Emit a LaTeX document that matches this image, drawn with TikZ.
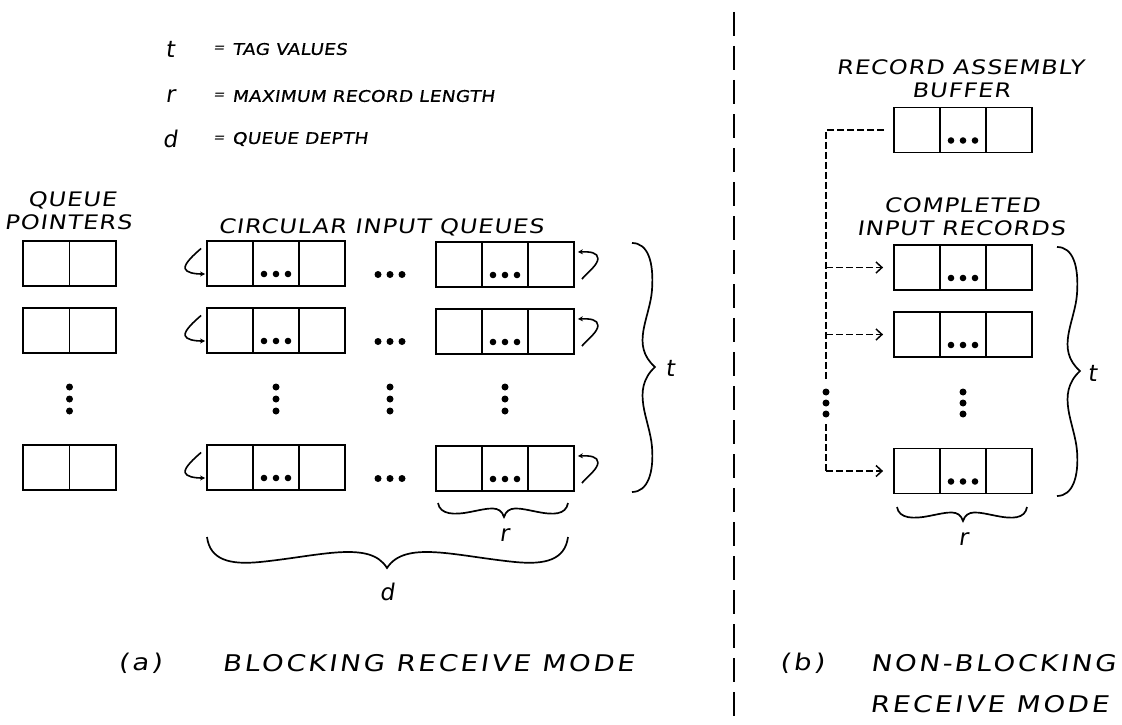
\documentclass[tikz,border=0pt]{standalone}
\usepackage{fontspec}
\usetikzlibrary{arrows.meta}
\newfontfamily\plotvar{DejaVu Sans}[FakeSlant=0.15]
\newfontfamily\plotleg{DejaVu Sans}[FakeSlant=0.15, FakeStretch=1.15, LetterSpace=2, FakeBold=0.5]
\newfontfamily\plotlab{DejaVu Sans}[FakeSlant=0.15, FakeStretch=1.2, LetterSpace=5]
\newfontfamily\plotcap{DejaVu Sans}[FakeSlant=0.15, FakeStretch=1.2, LetterSpace=12]
\begin{document}
\begin{tikzpicture}[x=1pt,y=-1pt]
\tikzset{
  box/.style={draw, line width=1.8pt, inner sep=0pt, minimum height=45pt},
  rectri/.style={box, minimum width=138pt, path picture={
      \draw[line width=1.8pt] ([xshift=-23pt]path picture bounding box.center) ++(0,40pt) -- ++(0,-80pt);
      \draw[line width=1.8pt] ([xshift=23pt]path picture bounding box.center) ++(0,40pt) -- ++(0,-80pt);
      \foreach \dx in {-12,0,12} \fill ([xshift=\dx pt, yshift=-10.5pt]path picture bounding box.center) circle (3.3pt);
  }},
  recduo/.style={box, minimum width=93pt, path picture={
      \draw[line width=1.8pt] (path picture bounding box.center) ++(0,40pt) -- ++(0,-80pt);
  }},
  dotc/.style={circle, fill, inner sep=0pt, minimum size=7pt},
  var/.style={font=\plotvar\fontsize{23}{25}\selectfont, inner sep=0pt},
  eqs/.style={font=\plotvar\fontsize{14}{15}\selectfont, inner sep=0pt},
  leg/.style={font=\plotleg\fontsize{16}{18}\selectfont, inner sep=0pt, anchor=west},
  lab/.style={font=\plotlab\fontsize{20}{22}\selectfont, inner sep=0pt},
  captext/.style={font=\plotcap\fontsize{23}{25}\selectfont, inner sep=0pt},
  brace/.style={line width=1.7pt},
  circ/.style={line width=1.6pt, -{Stealth[length=5pt,width=5pt]}},
  conn/.style={line width=1.5pt, dash pattern=on 7pt off 3pt},
  connarr/.style={conn, -{Straight Barb[length=6pt,width=11pt,line width=1.5pt]}},
  divider/.style={line width=1.8pt, dash pattern=on 24pt off 10pt}
}
\useasboundingbox (0,0) rectangle (1122,725);

% legend
\node[var] (lt) at (170,49) {t};
\node[eqs] (le1) at (219,49) {=};
\node[leg] (ltx) at (232,49) {TAG VALUES};
\node[var] (lr) at (170,96) {r};
\node[eqs] (le2) at (219,96) {=};
\node[leg] (lrx) at (232,96) {MAXIMUM RECORD LENGTH};
\node[var] (ld) at (170,139) {d};
\node[eqs] (le3) at (219,139) {=};
\node[leg] (ldx) at (232,139) {QUEUE DEPTH};

% titles left
\node[lab] (qp1) at (72,200) {QUEUE};
\node[lab] (qp2) at (68,222) {POINTERS};
\node[lab] (ciq) at (381,227) {CIRCULAR INPUT QUEUES};

% pointer boxes
\node[recduo] (p1) at (69.5,263.5) {};
\node[recduo] (p2) at (69.5,330.5) {};
\node[recduo] (p4) at (69.5,467.5) {};

% queues
\node[rectri] (a1) at (276,263.5) {};
\node[rectri] (a2) at (276,330.5) {};
\node[rectri] (a4) at (276,467.5) {};
\node[rectri] (b1) at (505,264.5) {};
\node[rectri] (b2) at (505,331.5) {};
\node[rectri] (b4) at (505,468.5) {};

% horizontal ellipses between queues
\foreach \r/\yy in {1/274.5,2/341.5,4/478.5}{
  \foreach \xx in {378,390,402} \node[dotc] at (\xx,\yy) {};
}
% vertical ellipses
\foreach \xx in {69.5,276,390,505}{
  \foreach \yy in {387,399,411} \node[dotc] at (\xx,\yy) {};
}

% circular arrows
\foreach \n in {a1,a2,a4}{
  \begin{scope}[shift={(\n.west)}]
    \draw[circ] (-5,-15) .. controls (-12,-9) and (-22,0) .. (-21,5) .. controls (-20,9) and (-12,10.5) .. (-1,10.5);
  \end{scope}
}
\foreach \n in {b1,b2,b4}{
  \begin{scope}[shift={(\n.east)}]
    \draw[circ] (7,14.5) .. controls (14,7) and (23,0) .. (23,-6) .. controls (23,-12) and (15,-13) .. (3,-12.5);
  \end{scope}
}

% brace t (left)
\draw[brace] (632,243) .. controls (648,243) and (654,262) .. (652,290) .. controls (650,318) and (630,345) .. (655,367) .. controls (630,390) and (650,420) .. (652,447) .. controls (654,472) and (648,492) .. (632,492);
\node[var] (tl) at (670,368) {t};
% brace r (left)
\draw[brace] (438,503) .. controls (440,515) and (455,515) .. (470,512) .. controls (490,508) and (500,505) .. (504,517) .. controls (508,505) and (518,508) .. (538,512) .. controls (553,515) and (566,515) .. (568,503);
\node[var] (rl) at (504,535) {r};
% brace d
\draw[brace] (207,537) .. controls (210,560) and (230,565) .. (260,562) .. controls (320,556) and (370,540) .. (387,568) .. controls (405,540) and (455,556) .. (515,562) .. controls (545,565) and (565,560) .. (568,537);
\node[var] (dl) at (387,592) {d};

% caption a
\node[captext] (ca1) at (140,663) {(a)};
\node[captext] (ca2) at (428,663) {BLOCKING RECEIVE MODE};

% divider
\coordinate (dv1) at (734,12);
\coordinate (dv2) at (734,725);
\draw[divider] (dv1) -- (dv2);

% right part
\node[lab] (rab1) at (960,67) {RECORD ASSEMBLY};
\node[lab] (rab2) at (961,90) {BUFFER};
\node[rectri] (buf) at (963,130) {};
\node[lab] (cir1) at (962,205) {COMPLETED};
\node[lab] (cir2) at (961,228) {INPUT RECORDS};
\node[rectri] (c1) at (963,267.5) {};
\node[rectri] (c2) at (963,334.5) {};
\node[rectri] (c4) at (963,471) {};

\coordinate (j0) at (826,130);
\coordinate (j1) at (826,267.5);
\coordinate (j2) at (826,334.5);
\coordinate (jb1) at (826,380);
\coordinate (jb2) at (826,424);
\coordinate (j4) at (826,471);
\draw[conn, shorten <=9pt] (buf.west) -- (j0) -- (jb1);
\draw[conn] (jb2) -- (j4);
\draw[connarr, shorten >=10pt] (j1) -- (c1.west);
\draw[connarr, shorten >=10pt] (j2) -- (c2.west);
\draw[connarr, shorten >=10pt] (j4) -- (c4.west);
\foreach \yy in {392,403,414} \node[dotc] at (826,\yy) {};
\foreach \yy in {392,403,414} \node[dotc] at (963,\yy) {};

% brace t (right)
\begin{scope}[shift={(425,4)}]
\draw[brace] (632,243) .. controls (648,243) and (654,262) .. (652,290) .. controls (650,318) and (630,345) .. (655,367) .. controls (630,390) and (650,420) .. (652,447) .. controls (654,472) and (648,492) .. (632,492);
\end{scope}
\node[var] (tr) at (1092,373) {t};
% brace r (right)
\begin{scope}[shift={(459,4)}]
\draw[brace] (438,503) .. controls (440,515) and (455,515) .. (470,512) .. controls (490,508) and (500,505) .. (504,517) .. controls (508,505) and (518,508) .. (538,512) .. controls (553,515) and (566,515) .. (568,503);
\end{scope}
\node[var] (rr) at (963,539) {r};

% caption b
\node[captext] (cb1) at (802,663) {(b)};
\node[captext] (cb2) at (993,663) {NON-BLOCKING};
\node[captext] (cb3) at (989,704) {RECEIVE MODE};
\end{tikzpicture}
\end{document}
